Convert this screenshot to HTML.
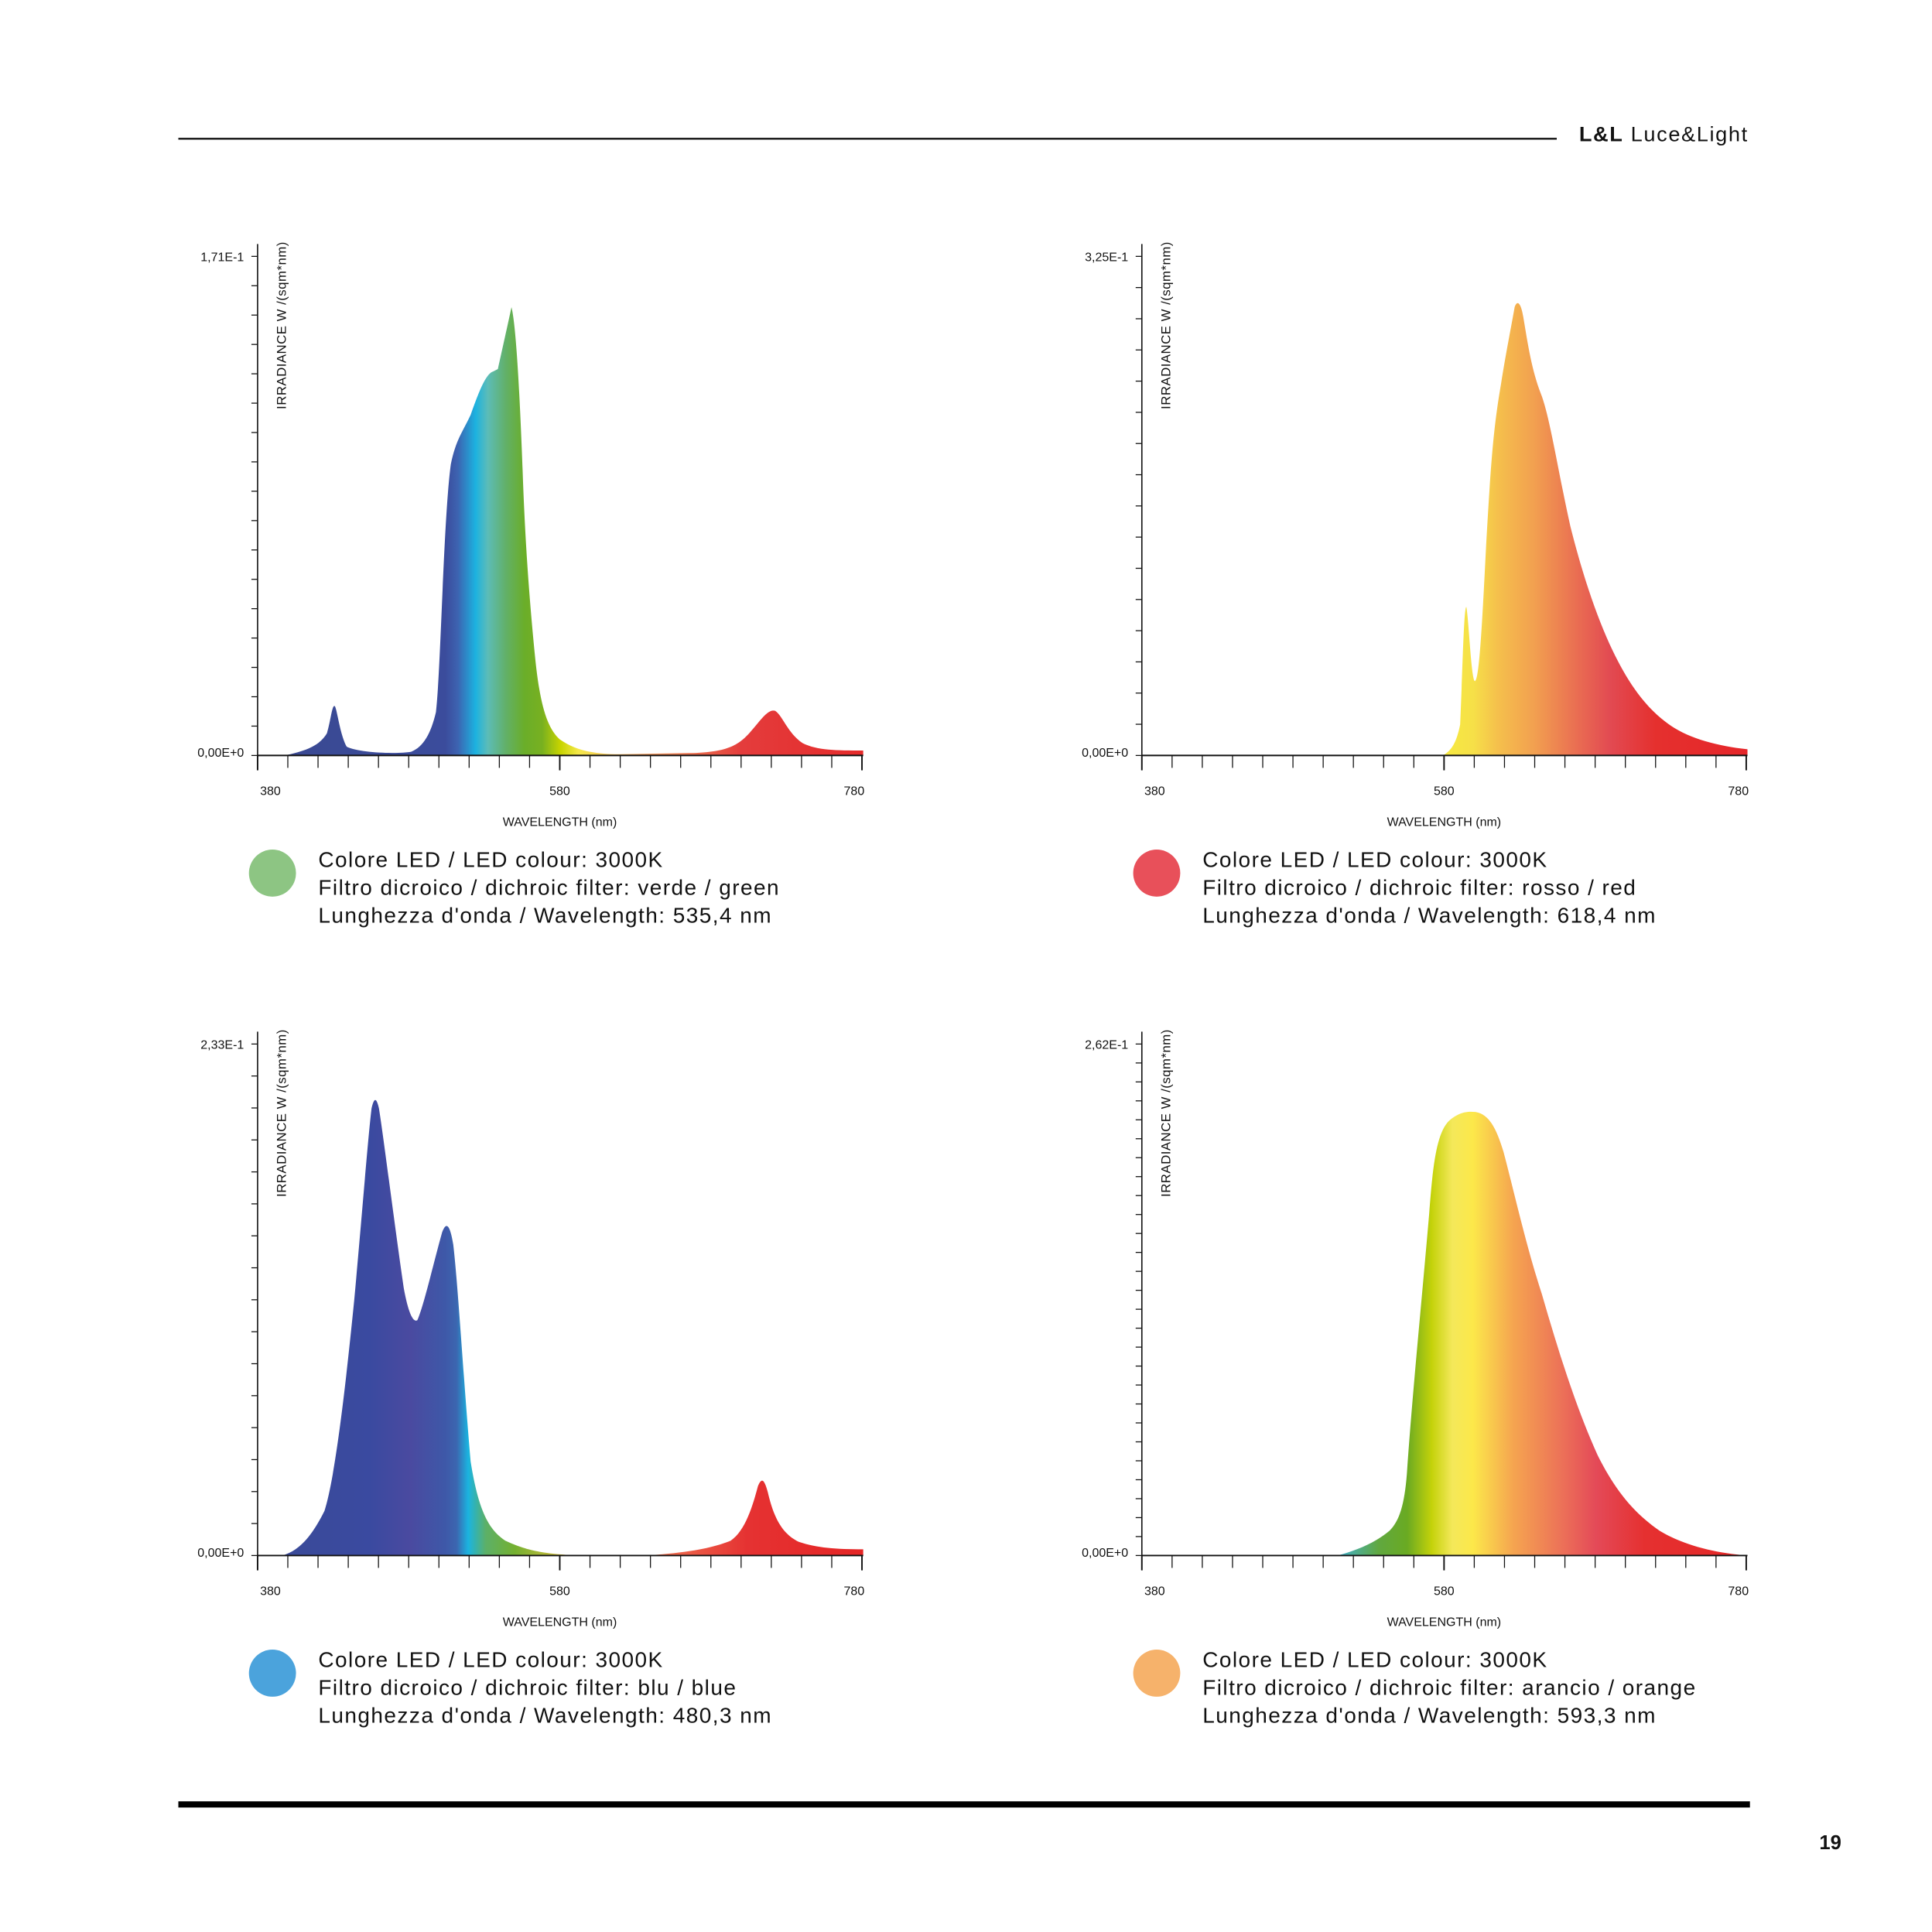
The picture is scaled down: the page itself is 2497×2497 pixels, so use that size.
<!DOCTYPE html>
<html><head><meta charset="utf-8"><style>
html,body{margin:0;padding:0;background:#fff;}
svg{display:block;}
.ax{font-family:"Liberation Sans Narrow","Liberation Sans",sans-serif;font-size:10px;fill:#111;}
.yl{font-family:"Liberation Sans Narrow","Liberation Sans",sans-serif;font-size:10.5px;fill:#111;letter-spacing:0.3px;}
.lg{font-family:"Liberation Sans",sans-serif;font-size:17.5px;fill:#111;letter-spacing:0.9px;}
</style></head><body>
<svg id="s" width="2497" height="2497" viewBox="0 0 1560 1560" xmlns="http://www.w3.org/2000/svg">
<defs>
<linearGradient id="g1" gradientUnits="userSpaceOnUse" x1="208" y1="0" x2="697" y2="0">
<stop offset="0" stop-color="#3a4890"/><stop offset="0.31" stop-color="#3b4c9c"/><stop offset="0.33" stop-color="#3d62b0"/><stop offset="0.36" stop-color="#1cb2e0"/><stop offset="0.38" stop-color="#5cbcb8"/><stop offset="0.41" stop-color="#62b068"/><stop offset="0.44" stop-color="#6aae2a"/><stop offset="0.47" stop-color="#78b020"/><stop offset="0.5" stop-color="#c8d400"/><stop offset="0.53" stop-color="#f5e84a"/><stop offset="0.62" stop-color="#f2a860"/><stop offset="0.8" stop-color="#e43c3c"/><stop offset="1" stop-color="#e52a2a"/>
</linearGradient>
<linearGradient id="g2" gradientUnits="userSpaceOnUse" x1="1165" y1="0" x2="1411" y2="0">
<stop offset="0" stop-color="#f7ea40"/><stop offset="0.1" stop-color="#f6e048"/><stop offset="0.18" stop-color="#f5c04c"/><stop offset="0.3" stop-color="#f2a050"/><stop offset="0.45" stop-color="#e96a52"/><stop offset="0.55" stop-color="#e24a52"/><stop offset="0.7" stop-color="#e5302e"/><stop offset="1" stop-color="#e5262a"/>
</linearGradient>
<linearGradient id="g3" gradientUnits="userSpaceOnUse" x1="228" y1="0" x2="697" y2="0">
<stop offset="0" stop-color="#3a4a98"/><stop offset="0.15" stop-color="#3a4aa0"/><stop offset="0.22" stop-color="#4a4aa0"/><stop offset="0.28" stop-color="#3e58a8"/><stop offset="0.3" stop-color="#3c66b0"/><stop offset="0.32" stop-color="#1ab4e0"/><stop offset="0.35" stop-color="#5cb068"/><stop offset="0.4" stop-color="#74b030"/><stop offset="0.5" stop-color="#e8c040"/><stop offset="0.65" stop-color="#ef7050"/><stop offset="0.8" stop-color="#e53232"/><stop offset="1" stop-color="#e52525"/>
</linearGradient>
<linearGradient id="g4" gradientUnits="userSpaceOnUse" x1="1080" y1="0" x2="1411" y2="0">
<stop offset="0" stop-color="#40b0d0"/><stop offset="0.1" stop-color="#60a840"/><stop offset="0.17" stop-color="#6aaa22"/><stop offset="0.23" stop-color="#c4d20a"/><stop offset="0.28" stop-color="#f4e85a"/><stop offset="0.33" stop-color="#fce84a"/><stop offset="0.43" stop-color="#f5a450"/><stop offset="0.55" stop-color="#ec7058"/><stop offset="0.63" stop-color="#e44a58"/><stop offset="0.75" stop-color="#e53030"/><stop offset="1" stop-color="#e52828"/>
</linearGradient>
</defs>
<line x1="144" y1="112" x2="1257" y2="112" stroke="#111" stroke-width="1.5"/>
<text x="1275" y="114" font-family="Liberation Sans,sans-serif" font-size="17" fill="#111" letter-spacing="1"><tspan font-weight="bold">L&amp;L</tspan> Luce&amp;Light</text>
<rect x="144" y="1454.5" width="1269" height="5" fill="#000"/>
<text x="1469" y="1493" font-family="Liberation Sans,sans-serif" font-size="16" font-weight="bold" fill="#111">19</text>

<path fill="url(#g1)" d="M230,610 C248,606 258,602 264,592 C267,582 268,570 270,570 C272,570 274,592 280,603 C290,608 320,609 332,607 C342,603 348,592 352,575 C356,540 358,420 364,375 C368,355 374,348 380,335 C386,318 392,302 398,300 L402,298 C406,280 410,262 413,248 C416,260 419,300 422,380 C424,440 428,490 432,530 C436,570 442,588 452,597 C465,606 480,609 500,609 L560,608 C585,607 595,603 605,592 C614,582 620,572 626,574 C632,578 636,592 648,600 C660,606 675,606 697,606 L697,610 Z"/>
<path fill="url(#g2)" d="M1165,610 C1172,606 1176,600 1179,585 C1181,540 1182,490 1184,490 C1186,500 1188,550 1191,550 C1194,548 1196,520 1200,440 C1204,370 1206,345 1212,310 C1216,285 1220,265 1223,248 C1225,242 1228,244 1230,256 C1234,280 1237,300 1245,320 C1252,340 1258,380 1268,425 C1278,465 1290,500 1302,525 C1315,552 1328,570 1345,583 C1362,596 1385,602 1411,605 L1411,610 Z"/>
<path fill="url(#g3)" d="M228,1256 C242,1252 252,1240 262,1220 C270,1195 278,1130 286,1050 C292,985 297,920 300,895 C302,886 304,886 306,895 C310,920 318,985 326,1040 C330,1062 334,1068 337,1066 C342,1055 350,1020 357,995 C360,987 363,987 366,1005 C370,1040 374,1110 380,1180 C386,1218 394,1235 408,1244 C425,1252 440,1255 470,1256 L520,1256 C555,1254 575,1250 590,1244 C602,1236 608,1215 612,1200 C615,1193 617,1194 620,1205 C624,1222 630,1238 645,1245 C660,1250 675,1251 697,1251 L697,1256 Z"/>
<path fill="url(#g4)" d="M1080,1256 C1095,1252 1110,1246 1122,1236 C1130,1228 1134,1215 1136,1190 C1140,1130 1148,1050 1154,980 C1157,940 1160,915 1170,905 C1178,898 1185,897 1192,898 C1202,900 1208,910 1214,930 C1222,960 1232,1005 1245,1045 C1258,1090 1272,1135 1290,1175 C1305,1205 1320,1222 1340,1236 C1360,1248 1385,1254 1411,1256 Z"/>
<g id="axes"></g>
</svg>
<script>
var ns="http://www.w3.org/2000/svg",G=document.getElementById("axes");
function el(t,a,txt){var e=document.createElementNS(ns,t);for(var k in a)e.setAttribute(k,a[k]);if(txt!=null)e.textContent=txt;G.appendChild(e);return e;}
function chart(ox,top,base,nY,ymax,circ,lines){
 var ax=208+ox;
 el("line",{x1:ax,y1:top-10,x2:ax,y2:base,stroke:"#111","stroke-width":1});
 el("line",{x1:ax,y1:base,x2:ax+489,y2:base,stroke:"#111","stroke-width":1.2});
 for(var i=0;i<=nY;i++){var y=base-(base-top)*i/nY;el("line",{x1:ax-5,y1:y,x2:ax,y2:y,stroke:"#111","stroke-width":0.8});}
 for(var j=0;j<=20;j++){var x=ax+j*24.4;el("line",{x1:x,y1:base,x2:x,y2:base+(j%10==0?12:10),stroke:"#111","stroke-width":(j%10==0?1.2:0.8)});}
 el("text",{x:ax-11,y:top+4,"text-anchor":"end","class":"ax"},ymax);
 el("text",{x:ax-11,y:base+1,"text-anchor":"end","class":"ax"},"0,00E+0");
 el("text",{x:ax+2,y:base+32,"class":"ax"},"380");
 el("text",{x:ax+244,y:base+32,"text-anchor":"middle","class":"ax"},"580");
 el("text",{x:ax+490,y:base+32,"text-anchor":"end","class":"ax"},"780");
 el("text",{x:ax+244,y:base+57,"text-anchor":"middle","class":"ax"},"WAVELENGTH (nm)");
 el("text",{x:0,y:0,"class":"yl",transform:"translate("+(ax+23)+","+(top-12)+") rotate(-90)","text-anchor":"end"},"IRRADIANCE W /(sqm*nm)");
 el("circle",{cx:220+ox,cy:base+95,r:19,fill:circ});
 for(var k=0;k<3;k++)el("text",{x:257+ox,y:base+90+k*22.5,"class":"lg"},lines[k]);
}
chart(0,207,610,17,"1,71E-1","#8dc583",["Colore LED / LED colour: 3000K","Filtro dicroico / dichroic filter: verde / green","Lunghezza d'onda / Wavelength: 535,4 nm"]);
chart(714,207,610,16,"3,25E-1","#e8505a",["Colore LED / LED colour: 3000K","Filtro dicroico / dichroic filter: rosso / red","Lunghezza d'onda / Wavelength: 618,4 nm"]);
chart(0,843,1256,16,"2,33E-1","#4ba3dc",["Colore LED / LED colour: 3000K","Filtro dicroico / dichroic filter: blu / blue","Lunghezza d'onda / Wavelength: 480,3 nm"]);
chart(714,843,1256,27,"2,62E-1","#f6b26b",["Colore LED / LED colour: 3000K","Filtro dicroico / dichroic filter: arancio / orange","Lunghezza d'onda / Wavelength: 593,3 nm"]);
</script>
</body></html>
